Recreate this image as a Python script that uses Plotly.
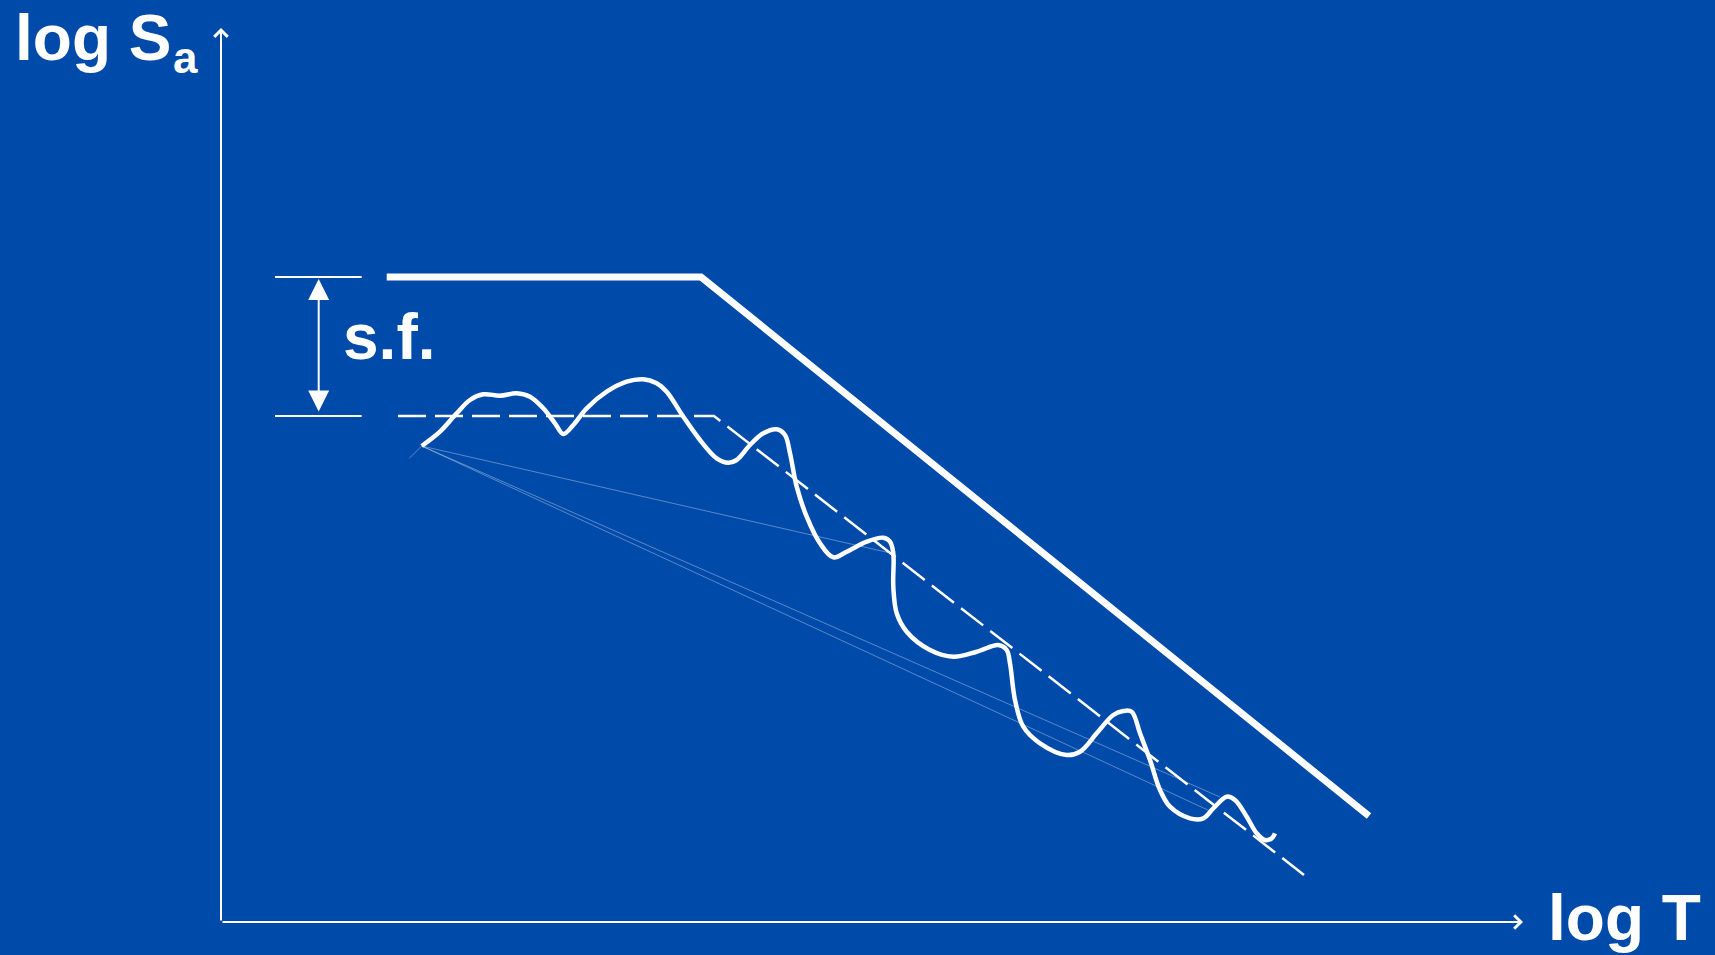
import plotly.graph_objects as go

# ---- data (log T, log Sa units; axis origin at 0,0) ----
design_T = [1.657, 4.80, 11.48]
design_Sa = [6.45, 6.45, 1.06]

target_T = [1.77, 4.93, 10.83]
target_Sa = [5.06, 5.06, 0.47]

record_T = [2.007, 2.19, 2.357, 2.49, 2.623, 2.79, 2.957, 3.09, 3.223, 3.34, 3.423, 3.523,
            3.657, 3.857, 4.057, 4.223, 4.357, 4.457, 4.623, 4.79, 4.957, 5.073, 5.157, 5.29,
            5.423, 5.557, 5.64, 5.69, 5.757, 5.857, 5.99, 6.123, 6.257, 6.457, 6.623, 6.69,
            6.723, 6.723, 6.757, 6.857, 7.09, 7.323, 7.557, 7.773, 7.857, 7.89, 7.94, 8.023,
            8.19, 8.457, 8.59, 8.757, 8.923, 9.023, 9.107, 9.19, 9.29, 9.39, 9.49, 9.69,
            9.823, 9.923, 10.057, 10.14, 10.257, 10.357, 10.44, 10.507, 10.54]
record_Sa = [4.76, 4.903, 5.087, 5.22, 5.277, 5.263, 5.287, 5.253, 5.137, 4.987, 4.88, 4.97,
             5.137, 5.303, 5.403, 5.427, 5.387, 5.303, 5.053, 4.82, 4.637, 4.593, 4.62, 4.77,
             4.887, 4.927, 4.87, 4.687, 4.353, 4.053, 3.787, 3.647, 3.703, 3.803, 3.843, 3.803,
             3.687, 3.353, 3.087, 2.903, 2.72, 2.653, 2.703, 2.77, 2.72, 2.587, 2.22, 1.953,
             1.787, 1.67, 1.703, 1.887, 2.07, 2.11, 2.103, 1.887, 1.62, 1.32, 1.153, 1.037,
             1.037, 1.137, 1.253, 1.22, 1.053, 0.887, 0.82, 0.837, 0.887]

# faint construction lines (start point, end points)
faint_start = (2.007, 4.76)
faint_ends_T = [6.707, 9.99, 9.89, 1.883]
faint_ends_Sa = [3.687, 1.25, 1.11, 4.637]

# scale-factor markers
sf_T = [0.54, 1.407]
sf_upper = 6.45
sf_lower = 5.06
sf_arrow_T = 0.977
sf_arrow_top, sf_arrow_bottom = 6.43, 5.09

# axes extents
x_axis_end = 13.02
y_axis_end = 8.94

BG = "#004AAA"
WHITE = "#FFFFFF"
FONT = "Liberation Sans, Arial, sans-serif"

fig = go.Figure()

# faint lines
for et, es in zip(faint_ends_T, faint_ends_Sa):
    fig.add_trace(go.Scatter(x=[faint_start[0], et], y=[faint_start[1], es], mode="lines",
                             line=dict(color="rgba(255,255,255,0.35)", width=1),
                             hoverinfo="skip", showlegend=False))

# s.f. tick lines
for yv in (sf_upper, sf_lower):
    fig.add_trace(go.Scatter(x=sf_T, y=[yv, yv], mode="lines",
                             line=dict(color=WHITE, width=2), hoverinfo="skip", showlegend=False))

# target (dashed)
fig.add_trace(go.Scatter(x=target_T, y=target_Sa, mode="lines",
                         line=dict(color=WHITE, width=2.5, dash="28px,9px"),
                         hoverinfo="skip", showlegend=False))

# record spectrum (wiggly)
fig.add_trace(go.Scatter(x=record_T, y=record_Sa, mode="lines",
                         line=dict(color=WHITE, width=4.5, shape="spline", smoothing=1.0),
                         hoverinfo="skip", showlegend=False))

# design spectrum (thick)
fig.add_trace(go.Scatter(x=design_T, y=design_Sa, mode="lines",
                         line=dict(color=WHITE, width=7), hoverinfo="skip", showlegend=False))

# axes arrows
fig.add_annotation(x=x_axis_end, y=0, ax=0, ay=0, xref="x", yref="y", axref="x", ayref="y",
                   text="", showarrow=True, arrowhead=4, arrowsize=1.3, arrowwidth=2,
                   arrowcolor=WHITE, standoff=0)
fig.add_annotation(x=0, y=y_axis_end, ax=0, ay=0, xref="x", yref="y", axref="x", ayref="y",
                   text="", showarrow=True, arrowhead=4, arrowsize=1.3, arrowwidth=2,
                   arrowcolor=WHITE, standoff=0)

# s.f. double arrow
fig.add_annotation(x=sf_arrow_T, y=sf_arrow_top, ax=sf_arrow_T, ay=sf_arrow_bottom,
                   xref="x", yref="y", axref="x", ayref="y", text="", showarrow=True,
                   arrowside="end+start", arrowhead=2, startarrowhead=2,
                   arrowsize=2.1, startarrowsize=2.1, arrowwidth=2, arrowcolor=WHITE,
                   standoff=0, startstandoff=0)

# labels
def lab(text, x, y, size):
    fig.add_annotation(x=x, y=y, xref="x", yref="y", text=text, showarrow=False,
                       xanchor="left", yanchor="middle",
                       font=dict(family=FONT, size=size, color=WHITE))

lab("<b>log S</b>", -2.08, 8.84, 64)
lab("<b>a</b>", -0.50, 8.65, 44)
lab("<b>log T</b>", 13.25, 0.04, 64)
lab("<b>s.f.</b>", 1.20, 5.85, 64)

fig.update_layout(
    width=1715, height=955,
    margin=dict(l=0, r=0, t=0, b=0),
    paper_bgcolor=BG, plot_bgcolor=BG,
    xaxis=dict(range=[-2.21, 14.94], visible=False, fixedrange=True),
    yaxis=dict(range=[-0.33, 9.22], visible=False, fixedrange=True),
    showlegend=False,
)

fig.write_html("out.html", config={"displayModeBar": False},
               post_script="document.body.style.margin='0';document.body.style.background='#004AAA';")
